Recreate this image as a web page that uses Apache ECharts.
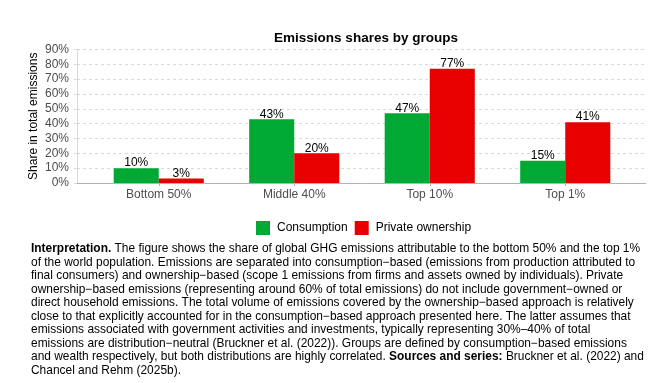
<!DOCTYPE html>
<html><head><meta charset="utf-8">
<script src="https://cdn.jsdelivr.net/npm/echarts@6/dist/echarts.min.js"></script>
<style>html,body{margin:0;padding:0;background:#fff}#c{width:655px;height:383px}</style>
</head><body><div id="c"></div>
<script>
const categories = ['Bottom 50%', 'Middle 40%', 'Top 10%', 'Top 1%'];
const consumption = [10, 43, 47, 15];
const privateOwnership = [3, 20, 77, 41];
const seriesNames = ['Consumption', 'Private ownership'];
const yTicks = {min: 0, max: 90, interval: 10};
const captionLines = [
  '{b|Interpretation.} The figure shows the share of global GHG emissions attributable to the bottom 50% and the top 1%',
  'of the world population. Emissions are separated into consumption\u2212based (emissions from production attributed to',
  'final consumers) and ownership\u2212based (scope 1 emissions from firms and assets owned by individuals). Private',
  'ownership\u2212based emissions (representing around 60% of total emissions) do not include government\u2212owned or',
  'direct household emissions. The total volume of emissions covered by the ownership\u2212based approach is relatively',
  'close to that explicitly accounted for in the consumption\u2212based approach presented here. The latter assumes that',
  'emissions associated with government activities and investments, typically representing 30%\u201340% of total',
  'emissions are distribution\u2212neutral (Bruckner et al. (2022)). Groups are defined by consumption\u2212based emissions',
  'and wealth respectively, but both distributions are highly correlated. {b|Sources and series:} Bruckner et al. (2022) and',
  'Chancel and Rehm (2025b).'
];
const FONT = '"Liberation Sans", Arial, Helvetica, sans-serif';
const chart = echarts.init(document.getElementById('c'), null, {renderer: 'canvas'});
const TOP = 49.5, BOTTOM = 200;
chart.setOption({
  animation: false,
  textStyle: {fontFamily: FONT},
  title: {text: 'Emissions shares by groups', left: 361, textAlign: 'center', top: 26,
    textStyle: {fontSize: 13.5, fontWeight: 'bold', color: '#000', fontFamily: FONT}},
  legend: {data: seriesNames, left: 251, top: 216, itemWidth: 14, itemHeight: 14, itemGap: 7,
    icon: 'rect', textStyle: {fontSize: 12, color: '#000', fontFamily: FONT, padding: [0, 0, 0, 2]}},
  grid: [
    {left: 77, right: 9, top: TOP, bottom: BOTTOM, containLabel: false},
    {left: 91, right: 22, top: TOP, bottom: BOTTOM, containLabel: false}
  ],
  xAxis: [
    {type: 'value', gridIndex: 0, min: 0, max: 1, show: true,
      axisLine: {show: true, lineStyle: {color: '#b3b3b3', width: 1}},
      axisTick: {show: false}, axisLabel: {show: false}, splitLine: {show: false}},
    {type: 'category', gridIndex: 1, data: categories,
      axisLine: {show: false},
      axisTick: {show: true, alignWithLabel: true, length: 3, lineStyle: {color: '#b3b3b3'}},
      axisLabel: {fontSize: 12, color: '#4d4d4d', margin: 6, fontFamily: FONT}}
  ],
  yAxis: [
    {type: 'value', gridIndex: 0, min: yTicks.min, max: yTicks.max, interval: yTicks.interval,
      name: 'Share in total emissions', nameLocation: 'middle', nameGap: 37, nameRotate: 90,
      nameMoveOverlap: false,
      nameTextStyle: {fontSize: 12, color: '#000', fontFamily: FONT},
      axisLine: {show: true, lineStyle: {color: '#d9d9d9'}},
      axisTick: {show: true, length: 3, lineStyle: {color: '#d9d9d9'}},
      axisLabel: {formatter: '{value}%', fontSize: 12, color: '#4d4d4d', margin: 8, fontFamily: FONT},
      splitLine: {lineStyle: {color: '#d9d9d9', type: [3, 3]}}},
    {type: 'value', gridIndex: 1, min: yTicks.min, max: yTicks.max, interval: yTicks.interval, show: false,
      splitLine: {show: false}}
  ],
  series: [
    {name: seriesNames[0], type: 'bar', xAxisIndex: 1, yAxisIndex: 1, data: consumption, barGap: '0%', barCategoryGap: '33.5%',
      itemStyle: {color: '#00A933'},
      label: {show: true, position: 'top', formatter: '{c}%', fontSize: 12, color: '#000', distance: -1, fontFamily: FONT}},
    {name: seriesNames[1], type: 'bar', xAxisIndex: 1, yAxisIndex: 1, data: privateOwnership, barGap: '0%', barCategoryGap: '33.5%',
      itemStyle: {color: '#E80000'},
      label: {show: true, position: 'top', formatter: '{c}%', fontSize: 12, color: '#000', distance: -1, fontFamily: FONT}}
  ],
  graphic: [{
    type: 'text', left: 31, top: 242,
    style: {text: captionLines.join('\n'), font: '11.95px ' + FONT, fill: '#000', lineHeight: 13.5,
      rich: {b: {fontWeight: 'bold', fontSize: 11.95, fontFamily: FONT, lineHeight: 13.5}}}
  }]
});
</script></body></html>
